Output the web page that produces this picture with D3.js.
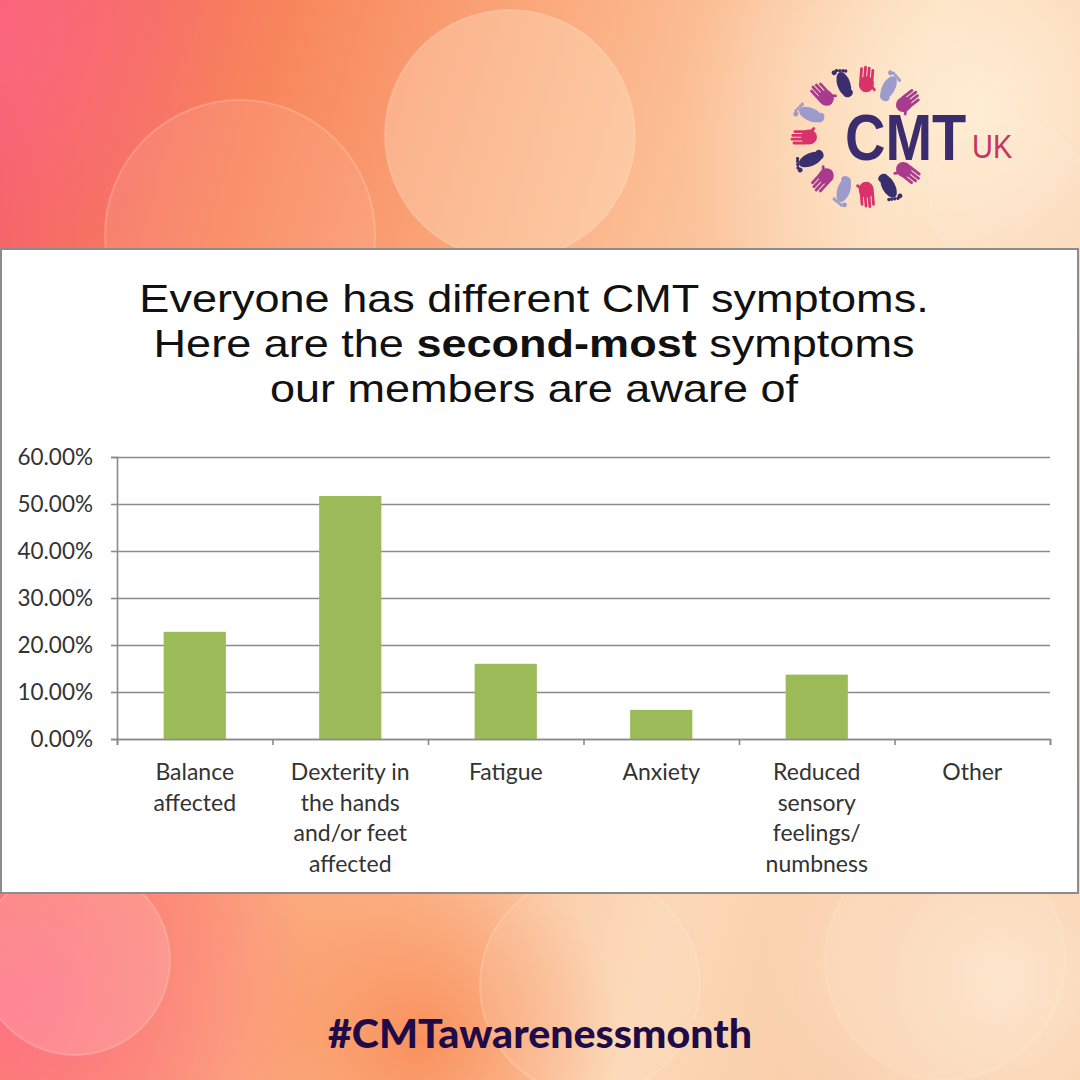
<!DOCTYPE html>
<html>
<head>
<meta charset="utf-8">
<script src="https://cdn.jsdelivr.net/npm/d3@7"></script>
<style>
  body { margin: 0; padding: 0; }
  svg { display: block; }
</style>
</head>
<body>
<script>
var categories = [
  ["Balance", "affected"],
  ["Dexterity in", "the hands", "and/or feet", "affected"],
  ["Fatigue"],
  ["Anxiety"],
  ["Reduced", "sensory", "feelings/", "numbness"],
  ["Other"]
];
var percents = [22.8, 51.7, 16.0, 6.2, 13.7, 0];
var yTicks = [0, 10, 20, 30, 40, 50, 60];

var titleLines = [
  [{t: "Everyone has different CMT symptoms.", b: false}],
  [{t: "Here are the ", b: false}, {t: "second-most", b: true}, {t: " symptoms", b: false}],
  [{t: "our members are aware of", b: false}]
];

// logo ring: hand/foot pattern going round clockwise from lower right
var logoKinds = ["hand", "foot", "hand", "foot"];
var logoColors = ["#a93b8f", "#3a2f6e", "#d7336a", "#9d9bcb"];

const w = 1080, h = 1080;

var svg = d3.select("body").append("svg")
  .attr("width", w)
  .attr("height", h);

var defs = svg.append("defs");

// background gradient
var bg = defs.append("linearGradient").attr("id", "bg")
  .attr("x1", "0").attr("y1", "0").attr("x2", "1").attr("y2", "0.3");
bg.append("stop").attr("offset", "0").attr("stop-color", "#f4596b");
bg.append("stop").attr("offset", "0.25").attr("stop-color", "#f8865c");
bg.append("stop").attr("offset", "0.5").attr("stop-color", "#fbaf82");
bg.append("stop").attr("offset", "0.8").attr("stop-color", "#fcd8b6");
bg.append("stop").attr("offset", "1").attr("stop-color", "#f9cba8");

var glow = defs.append("radialGradient").attr("id", "glow");
glow.append("stop").attr("offset", "0").attr("stop-color", "#fff3dc").attr("stop-opacity", 0.8);
glow.append("stop").attr("offset", "1").attr("stop-color", "#fff3dc").attr("stop-opacity", 0);

var pinkGlow = defs.append("radialGradient").attr("id", "pinkGlow");
pinkGlow.append("stop").attr("offset", "0").attr("stop-color", "#ff6f8a").attr("stop-opacity", 0.85);
pinkGlow.append("stop").attr("offset", "1").attr("stop-color", "#ff6f8a").attr("stop-opacity", 0);

var orangeGlow = defs.append("radialGradient").attr("id", "orangeGlow");
orangeGlow.append("stop").attr("offset", "0").attr("stop-color", "#f9854f").attr("stop-opacity", 0.8);
orangeGlow.append("stop").attr("offset", "1").attr("stop-color", "#f9854f").attr("stop-opacity", 0);

svg.append("rect").attr("width", w).attr("height", h).attr("fill", "url(#bg)");

// soft bokeh
svg.append("circle").attr("cx", 20).attr("cy", 1000).attr("r", 300).attr("fill", "url(#pinkGlow)");
svg.append("circle").attr("cx", 420).attr("cy", 1040).attr("r", 200).attr("fill", "url(#orangeGlow)");
svg.append("circle").attr("cx", 0).attr("cy", 40).attr("r", 220).attr("fill", "url(#pinkGlow)").attr("opacity", 0.7);
svg.append("circle").attr("cx", 980).attr("cy", 110).attr("r", 300).attr("fill", "url(#glow)");
svg.append("circle").attr("cx", 1000).attr("cy", 980).attr("r", 240).attr("fill", "url(#glow)").attr("opacity", 0.8);
[[510, 135, 125, "#fff0d4", 0.3], [240, 235, 135, "#ffc0b0", 0.18], [75, 960, 95, "#ffd0dc", 0.22],
 [590, 985, 110, "#fff1dd", 0.12], [945, 960, 120, "#fff1dd", 0.12], [1010, 200, 80, "#fff1dd", 0.12]].forEach(c => {
  svg.append("circle").attr("cx", c[0]).attr("cy", c[1]).attr("r", c[2])
    .attr("fill", c[3]).attr("fill-opacity", c[4])
    .attr("stroke", "#fff1dd").attr("stroke-opacity", 0.22).attr("stroke-width", 2);
});

// logo
var logo = svg.append("g").attr("transform", "translate(862,137)");
for (let i = 0; i < 13; i++) {
  let ang = 38 + i * 23.67;
  let kind = logoKinds[i % 4];
  let col = logoColors[i % 4];
  let g = logo.append("g").attr("transform", "rotate(" + ang + ") translate(59,0) rotate(90)");
  if (kind === "foot") {
    g.append("ellipse").attr("cx", 0).attr("cy", 3).attr("rx", 6.5).attr("ry", 12.5).attr("fill", col);
    g.append("ellipse").attr("cx", 1).attr("cy", 13).attr("rx", 5).attr("ry", 4).attr("fill", col);
    [-5.5, -2.5, 0.5, 3.5, 6].forEach((tx, k) => {
      g.append("circle").attr("cx", tx).attr("cy", -12 + Math.abs(k - 1) * 1.1).attr("r", k === 0 ? 2.4 : 1.7).attr("fill", col);
    });
  } else {
    g.append("ellipse").attr("cx", 0).attr("cy", 6).attr("rx", 7.5).attr("ry", 8).attr("fill", col);
    [-6, -2.2, 1.6, 5.4].forEach((fx, k) => {
      g.append("rect").attr("x", fx - 1.4).attr("y", -13 + Math.abs(k - 1.3) * 2).attr("width", 2.8).attr("height", 15)
        .attr("rx", 1.4).attr("fill", col);
    });
    g.append("rect").attr("x", 6).attr("y", 1).attr("width", 2.8).attr("height", 12)
      .attr("rx", 1.4).attr("fill", col).attr("transform", "rotate(-45,7,10)");
  }
}
// wordmark: letters are taller than wide, so scale up vertically
svg.append("g").attr("transform", "translate(845,160) scale(1,1.15)")
  .append("text")
  .attr("font-family", "Liberation Sans, Arial, sans-serif").attr("font-weight", "bold")
  .attr("font-size", 56).attr("fill", "#3b2d6d")
  .text("CMT");
svg.append("g").attr("transform", "translate(972,158) scale(1,1.12)")
  .append("text")
  .attr("font-family", "Liberation Sans, Arial, sans-serif")
  .attr("font-size", 29).attr("fill", "#c9345f")
  .text("UK");

// white panel
svg.append("rect").attr("x", 1).attr("y", 249).attr("width", 1077).attr("height", 644)
  .attr("fill", "#ffffff").attr("stroke", "#8c8c8c").attr("stroke-width", 2);

// title (the source chart is stretched a little sideways)
var title = svg.append("g")
  .attr("transform", "translate(534,0) scale(1.155,1)")
  .append("text")
  .attr("text-anchor", "middle")
  .attr("font-family", "Liberation Sans, Arial, sans-serif")
  .attr("font-size", 39).attr("fill", "#111");
titleLines.forEach((line, i) => {
  line.forEach((part, j) => {
    var sp = title.append("tspan").attr("font-weight", part.b ? "bold" : "normal").text(part.t);
    if (j === 0) sp.attr("x", 0).attr("y", 312 + i * 45);
  });
});

// chart
const mLeft = 117, mRight = 1050, mTop = 457, mBottom = 739;

var x = d3.scaleBand()
  .domain(d3.range(categories.length))
  .range([mLeft, mRight])
  .paddingInner(0.6)
  .paddingOuter(0.3);

var xEdges = d3.scaleLinear().domain([0, categories.length]).range([mLeft, mRight]);

var y = d3.scaleLinear().domain([0, 60]).range([mBottom, mTop]);

var chart = svg.append("g");
var labelFont = "Lato, sans-serif";

// gridlines
chart.append("g")
  .attr("transform", "translate(" + mLeft + ",0)")
  .call(d3.axisLeft(y).tickValues(yTicks).tickSize(-(mRight - mLeft)).tickFormat(""))
  .call(g => g.select(".domain").remove())
  .call(g => g.selectAll("line").attr("stroke", "#8a8a8a").attr("stroke-width", 1.6));

// y axis
chart.append("g")
  .attr("transform", "translate(" + mLeft + ",0)")
  .call(d3.axisLeft(y).tickValues(yTicks).tickSize(6).tickPadding(18)
    .tickFormat(d => d3.format(".2f")(d) + "%"))
  .call(g => g.select(".domain").attr("stroke", "#8a8a8a").attr("stroke-width", 1.6))
  .call(g => g.selectAll(".tick line").attr("stroke", "#8a8a8a").attr("stroke-width", 1.6))
  .call(g => g.selectAll("text").attr("font-family", labelFont).attr("font-size", 22.5).attr("fill", "#333"));

// bars
chart.selectAll("rect.bar")
  .data(percents)
  .enter().append("rect")
  .attr("class", "bar")
  .attr("x", (d, i) => x(i))
  .attr("width", x.bandwidth())
  .attr("y", d => y(d))
  .attr("height", d => y(0) - y(d))
  .attr("fill", "#9bbb59");

// x axis
chart.append("g")
  .attr("transform", "translate(0," + mBottom + ")")
  .call(d3.axisBottom(xEdges).tickValues(d3.range(categories.length + 1)).tickSize(6).tickFormat(""))
  .call(g => g.select(".domain").attr("stroke", "#8a8a8a").attr("stroke-width", 1.6))
  .call(g => g.selectAll(".tick line").attr("stroke", "#8a8a8a").attr("stroke-width", 1.6));

// category labels
var catLabels = chart.selectAll("text.cat")
  .data(categories)
  .enter().append("text")
  .attr("class", "cat")
  .attr("text-anchor", "middle")
  .attr("font-family", labelFont)
  .attr("font-size", 23)
  .attr("fill", "#333");
catLabels.each(function(lines, i) {
  var t = d3.select(this);
  lines.forEach((ln, k) => {
    t.append("tspan").attr("x", x(i) + x.bandwidth() / 2).attr("y", 780 + k * 30.5).text(ln);
  });
});

// hashtag
svg.append("text")
  .attr("x", 540).attr("y", 1048)
  .attr("text-anchor", "middle")
  .attr("font-family", "Lato, sans-serif").attr("font-weight", 900)
  .attr("font-size", 40).attr("fill", "#1e0b47")
  .attr("textLength", 424).attr("lengthAdjust", "spacingAndGlyphs")
  .text("#CMTawarenessmonth");
</script>
</body>
</html>
